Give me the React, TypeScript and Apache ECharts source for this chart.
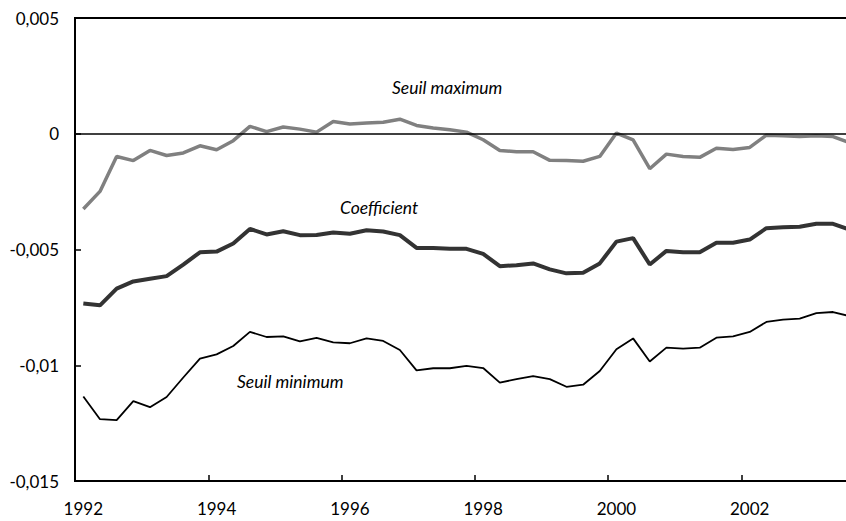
import React, { useEffect, useRef } from "react";
import * as echarts from "echarts";

const years = [1992, 1993, 1994, 1995, 1996, 1997, 1998, 1999, 2000, 2001, 2002, 2003];
const quarters = ["T1", "T2", "T3", "T4"];
const categories: string[] = [];
years.forEach((y) => quarters.forEach((q) => categories.push(`${y} ${q}`)));
const cats = categories.slice(0, 47);

const seuilMaximum = [
  -0.00325, -0.00249, -0.00098, -0.00116, -0.00072, -0.00094, -0.00083, -0.00052,
  -0.00069, -0.0003, 0.00032, 0.00009, 0.00029, 0.0002, 0.00007, 0.00053,
  0.00042, 0.00046, 0.0005, 0.00063, 0.00036, 0.00025, 0.00017, 0.00007,
  -0.00026, -0.00072, -0.00078, -0.00078, -0.00115, -0.00116, -0.00119, -0.00098,
  0.00003, -0.00026, -0.00151, -0.00088, -0.00098, -0.00102, -0.00063, -0.00068,
  -0.00059, -0.00006, -0.00009, -0.00012, -0.00009, -0.00012, -0.00039,
];

const coefficient = [
  -0.00733, -0.00741, -0.00669, -0.00638, -0.00626, -0.00615, -0.00565, -0.00512,
  -0.00509, -0.00474, -0.00411, -0.00435, -0.00421, -0.00438, -0.00437, -0.00427,
  -0.00432, -0.00417, -0.00422, -0.00438, -0.00493, -0.00493, -0.00497, -0.00497,
  -0.00519, -0.00572, -0.00568, -0.0056, -0.00586, -0.00603, -0.006, -0.0056,
  -0.00466, -0.00451, -0.00565, -0.00506, -0.00512, -0.00512, -0.00471, -0.00471,
  -0.00457, -0.00408, -0.00404, -0.00402, -0.00389, -0.00389, -0.00414,
];

const seuilMinimum = [
  -0.01135, -0.01233, -0.01237, -0.01155, -0.01181, -0.01137, -0.01053, -0.00971,
  -0.00953, -0.00917, -0.00856, -0.00878, -0.00875, -0.00897, -0.00882, -0.00901,
  -0.00905, -0.00884, -0.00895, -0.00934, -0.01022, -0.01013, -0.01013, -0.01003,
  -0.01012, -0.01075, -0.0106, -0.01047, -0.0106, -0.01093, -0.01084, -0.01025,
  -0.00931, -0.00884, -0.00984, -0.00924, -0.00928, -0.00924, -0.00881, -0.00875,
  -0.00856, -0.00813, -0.00803, -0.00799, -0.00775, -0.0077, -0.00788,
];

const labelFont = "Lato, 'Open Sans', sans-serif";

export default function App() {
  const ref = useRef<HTMLDivElement>(null);

  useEffect(() => {
    if (!ref.current) return;
    const chart = echarts.init(ref.current, undefined, { renderer: "svg" });
    chart.setOption({
      animation: false,
      backgroundColor: "#ffffff",
      grid: {
        left: 75,
        top: 18,
        right: 0,
        bottom: 40,
        show: true,
        borderColor: "#000",
        borderWidth: 2,
        containLabel: false,
      },
      xAxis: {
        type: "category",
        data: cats,
        boundaryGap: true,
        axisLine: { show: true, onZero: false, lineStyle: { color: "#000", width: 2 } },
        axisTick: { show: true, inside: true, length: 6, interval: 7, lineStyle: { color: "#000", width: 1.5 } },
        axisLabel: {
          interval: 7,
          margin: 19,
          color: "#000",
          fontSize: 17,
          fontFamily: labelFont,
          formatter: (v: string) => v.split(" ")[0],
        },
        splitLine: { show: false },
      },
      yAxis: {
        type: "value",
        min: -0.015,
        max: 0.005,
        interval: 0.005,
        axisLine: { show: true, lineStyle: { color: "#000", width: 2 } },
        axisTick: { show: true, inside: true, length: 6, lineStyle: { color: "#000", width: 1.5 } },
        axisLabel: {
          margin: 16,
          color: "#000",
          fontSize: 17,
          fontFamily: labelFont,
          formatter: (v: number) => {
            const r = Math.round(v * 1000) / 1000;
            if (r === 0) return "0";
            return String(r).replace(".", ",");
          },
        },
        splitLine: { show: false },
      },
      series: [
        {
          name: "Seuil maximum",
          type: "line",
          data: seuilMaximum,
          symbol: "none",
          lineStyle: { color: "#808080", width: 3.5 },
          itemStyle: { color: "#808080" },
          markLine: {
            silent: true,
            symbol: "none",
            label: { show: false },
            lineStyle: { color: "#000", width: 1.5, type: "solid" },
            data: [{ yAxis: 0 }],
          },
          z: 3,
        },
        {
          name: "Coefficient",
          type: "line",
          data: coefficient,
          symbol: "none",
          lineStyle: { color: "#333333", width: 4 },
          itemStyle: { color: "#333333" },
          z: 3,
        },
        {
          name: "Seuil minimum",
          type: "line",
          data: seuilMinimum,
          symbol: "none",
          lineStyle: { color: "#000000", width: 1.8 },
          itemStyle: { color: "#000000" },
          z: 3,
        },
      ],
      graphic: [
        {
          type: "text",
          left: 392,
          top: 78,
          style: { text: "Seuil maximum", fill: "#000", font: `italic 17.5px ${labelFont}` },
        },
        {
          type: "text",
          left: 340,
          top: 198,
          style: { text: "Coefficient", fill: "#000", font: `italic 17.5px ${labelFont}` },
        },
        {
          type: "text",
          left: 237,
          top: 372,
          style: { text: "Seuil minimum", fill: "#000", font: `italic 17.5px ${labelFont}` },
        },
      ],
    });
    return () => chart.dispose();
  }, []);

  return (
    <div style={{ position: "fixed", left: 0, top: 0, width: 846, height: 521, overflow: "hidden", background: "#fff" }}>
      <div ref={ref} style={{ width: 858, height: 521 }} />
    </div>
  );
}
